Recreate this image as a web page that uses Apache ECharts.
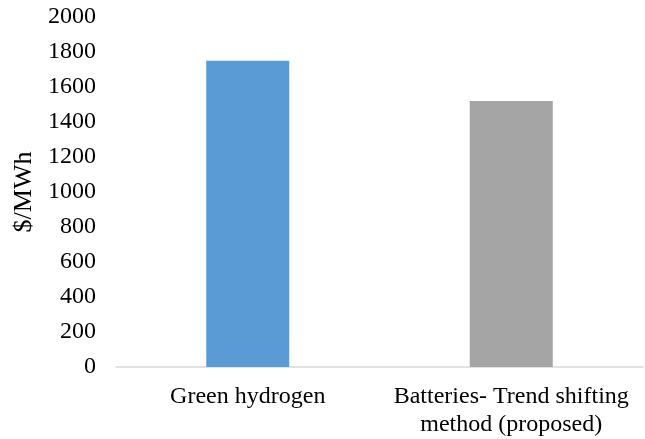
<!DOCTYPE html>
<html>
<head>
<meta charset="utf-8">
<script src="https://cdn.jsdelivr.net/npm/echarts@6/dist/echarts.min.js"></script>
<style>
  html, body { margin: 0; padding: 0; background: #fff; }
  #chart { width: 645px; height: 439px; }
</style>
</head>
<body>
<div id="chart"></div>
<script>
// Levelized cost of storage by technology ($/MWh)
const categories = ['Green hydrogen', 'Batteries- Trend shifting\nmethod (proposed)'];
const costValues = [1750, 1520];
const barColors = ['#5B9BD5', '#A5A5A5'];
const yTicks = { min: 0, max: 2000, interval: 200 };

const FONT = '"Liberation Serif", "Times New Roman", serif';

const chart = echarts.init(document.getElementById('chart'), null, { renderer: 'canvas' });
chart.setOption({
  animation: false,
  backgroundColor: '#ffffff',
  grid: { left: 116, right: 2, top: 17, bottom: 72 },
  xAxis: {
    type: 'category',
    data: categories,
    axisLine: { show: true, lineStyle: { color: '#D9D9D9', width: 1.5 } },
    axisTick: { show: false },
    axisLabel: {
      color: '#000',
      fontFamily: FONT,
      fontSize: 24,
      lineHeight: 28,
      margin: 16,
      interval: 0
    }
  },
  yAxis: {
    type: 'value',
    min: yTicks.min,
    max: yTicks.max,
    interval: yTicks.interval,
    name: '$/MWh',
    nameLocation: 'middle',
    nameGap: 77,
    nameTextStyle: { color: '#000', fontFamily: FONT, fontSize: 26 },
    axisLine: { show: false },
    axisTick: { show: false },
    splitLine: { show: false },
    axisLabel: {
      color: '#000',
      fontFamily: FONT,
      fontSize: 24,
      margin: 20,
      formatter: v => String(v)
    }
  },
  series: [{
    type: 'bar',
    data: costValues.map((v, i) => ({ value: v, itemStyle: { color: barColors[i] } })),
    barWidth: '31.5%'
  }]
});
</script>
</body>
</html>
